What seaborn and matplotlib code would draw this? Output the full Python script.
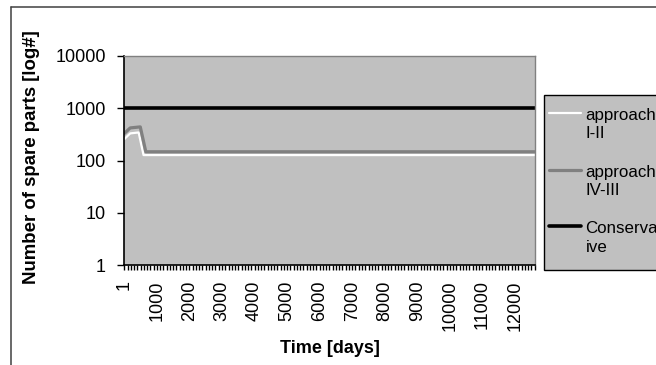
import matplotlib
matplotlib.use("Agg")
import matplotlib.pyplot as plt
import seaborn as sns
import pandas as pd
from matplotlib.ticker import FixedLocator, NullLocator, NullFormatter, FixedFormatter
from matplotlib.lines import Line2D
from matplotlib.patches import Rectangle
from matplotlib.legend_handler import HandlerLine2D

sns.set_style("white")
plt.rcParams['font.family'] = ['Liberation Sans', 'DejaVu Sans']
plt.rcParams['text.color'] = 'black'
plt.rcParams['axes.labelcolor'] = 'black'
plt.rcParams['xtick.color'] = 'black'
plt.rcParams['ytick.color'] = 'black'

# data
days_a = [1, 180, 440, 590, 12600]
approach_I_II = [257, 330, 344, 127, 127]
days_b = [1, 180, 490, 660, 12600]
approach_IV_III = [330, 420, 440, 147, 147]
days_c = [1, 12600]
conservative = [1000, 1000]

labels = ["approach\nI-II", "approach\nIV-III", "Conserva\nive"]
x_ticks = [1, 1000, 2000, 3000, 4000, 5000, 6000, 7000, 8000, 9000, 10000, 11000, 12000]
y_ticks = [1, 10, 100, 1000, 10000]

W, H = 656, 365
fig = plt.figure(figsize=(W / 100, H / 100), dpi=100)
ax = fig.add_axes([124 / W, 1 - 265 / H, (535 - 124) / W, (265 - 56) / H])
ax.set_facecolor("#C0C0C0")

df_a = pd.DataFrame({"day": days_a, "val": approach_I_II})
df_b = pd.DataFrame({"day": days_b, "val": approach_IV_III})
df_c = pd.DataFrame({"day": days_c, "val": conservative})
sns.lineplot(data=df_a, x="day", y="val", ax=ax, color="white", linewidth=1.6, label=labels[0])
sns.lineplot(data=df_b, x="day", y="val", ax=ax, color="#808080", linewidth=2.3, label=labels[1])
sns.lineplot(data=df_c, x="day", y="val", ax=ax, color="black", linewidth=2.6, label=labels[2])

ax.set_yscale("log")
ax.set_ylim(1, 10000)
ax.set_xlim(-10, 12614)
ax.yaxis.set_major_locator(FixedLocator(y_ticks))
ax.yaxis.set_major_formatter(FixedFormatter([str(v) for v in y_ticks]))
ax.yaxis.set_minor_locator(NullLocator())
ax.xaxis.set_major_locator(FixedLocator(x_ticks))
ax.xaxis.set_major_formatter(FixedFormatter([str(v) for v in x_ticks]))
ax.xaxis.set_minor_locator(FixedLocator([d for d in range(100, 12601, 100)]))
ax.xaxis.set_minor_formatter(NullFormatter())
ax.tick_params(axis="x", which="both", direction="out", length=3.6, width=1, color="black",
               labelsize=13, labelrotation=90, bottom=True, pad=7.5)
ax.tick_params(axis="y", which="major", direction="out", length=5, width=1, color="black",
               labelsize=13, left=True, pad=8)

for s in ["top", "right"]:
    ax.spines[s].set_color("#808080")
    ax.spines[s].set_linewidth(1)
for s in ["left", "bottom"]:
    ax.spines[s].set_color("black")
    ax.spines[s].set_linewidth(1.2)

ax.set_xlabel("Time [days]", fontsize=13, fontweight="bold")
ax.set_ylabel("Number of spare parts [log#]", fontsize=13.4, fontweight="bold")
ax.xaxis.set_label_coords((330 - 124) / (535 - 124), -(340 - 265) / (265 - 56))
ax.yaxis.set_label_coords(-(124 - 40) / (535 - 124), (265 - 157.5) / (265 - 56))

ax.get_legend().remove()
handles, lbls = ax.get_legend_handles_labels()


class UpLine(HandlerLine2D):
    def create_artists(self, legend, orig_handle, xdescent, ydescent, width, height, fontsize, trans):
        arts = super().create_artists(legend, orig_handle, xdescent, ydescent, width, height, fontsize, trans)
        for a in arts:
            if isinstance(a, Line2D):
                a.set_ydata([y + 0.7 * fontsize for y in a.get_ydata()])
        return arts


# legend box
fig.add_artist(Rectangle((544 / W, 1 - 270 / H), 0.5, (270 - 95) / H, transform=fig.transFigure,
                         facecolor="#C0C0C0", edgecolor="black", lw=1, zorder=4))
leg = fig.legend(handles, lbls, loc="upper left", bbox_to_anchor=(549 / W, 1 - 108 / H),
                 fontsize=12.2, frameon=False, borderpad=0, labelspacing=1.38,
                 handlelength=1.9, handletextpad=0.25, borderaxespad=0,
                 handler_map={Line2D: UpLine()})
for t in leg.get_texts():
    t.set_linespacing(1.28)
leg.set_zorder(5)

# chart-area border
fig.add_artist(Line2D([10.5 / W, 10.5 / W], [0, 1 - 7.3 / H], transform=fig.transFigure, color="#404040", lw=1.1))
fig.add_artist(Line2D([10.5 / W, 1], [1 - 7.3 / H, 1 - 7.3 / H], transform=fig.transFigure, color="#404040", lw=1.1))

fig.savefig("out.png", dpi=100)
